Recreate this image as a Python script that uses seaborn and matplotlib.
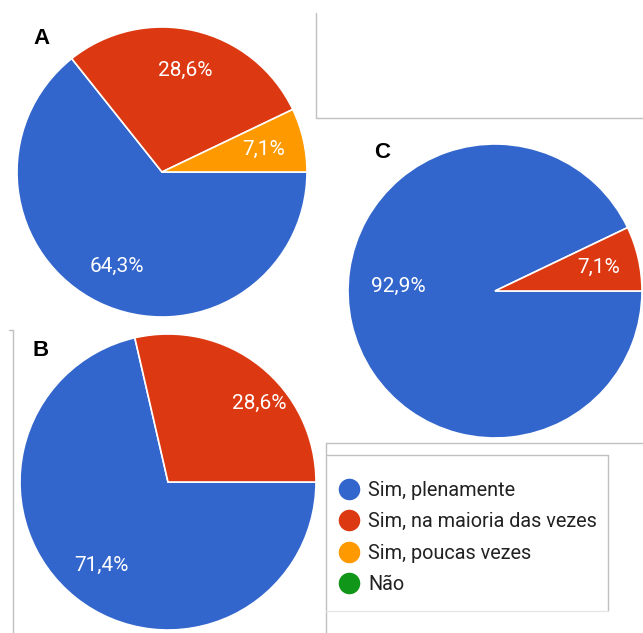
import matplotlib
matplotlib.use("Agg")
import matplotlib.pyplot as plt
from matplotlib.lines import Line2D
import numpy as np
import seaborn as sns

# ---- data ----
categories = ["Sim, plenamente", "Sim, na maioria das vezes", "Sim, poucas vezes", "Não"]
values_A = [64.3, 28.6, 7.1, 0.0]
values_B = [71.4, 28.6, 0.0, 0.0]
values_C = [92.9, 7.1, 0.0, 0.0]
panel_letters = ["A", "B", "C"]
colors = ["#3366cc", "#dc3912", "#ff9900", "#109618"]

sns.set_theme(style="white")
plt.rcParams["font.family"] = ["Roboto", "DejaVu Sans"]

W, H = 643, 633
fig = plt.figure(figsize=(W / 100, H / 100), dpi=100)


def px_axes(cx, cy, r):
    return fig.add_axes([(cx - r) / W, 1 - (cy + r) / H, 2 * r / W, 2 * r / H])


def fmt(v):
    return ("%.1f%%" % v).replace(".", ",")


def draw_pie(ax, vals, label_pos=None):
    label_pos = label_pos or {}
    vs = [v for v in vals if v > 0]
    cs = [c for v, c in zip(vals, colors) if v > 0]
    ax.pie(vs, colors=cs, startangle=0, counterclock=False,
           radius=1.0, wedgeprops=dict(edgecolor="white", linewidth=1.2))
    start = 0.0
    for i, v in enumerate(vs):
        mid = start - v / 100 * 360 / 2
        start -= v / 100 * 360
        ang = np.deg2rad(mid)
        x, y = label_pos.get(i, (0.72 * np.cos(ang), 0.72 * np.sin(ang)))
        ax.text(x, y, fmt(v), ha="center", va="center", color="white", fontsize=15)
    ax.set_xlim(-1, 1)
    ax.set_ylim(-1, 1)
    ax.set_axis_off()


axA = px_axes(162, 172, 145)
draw_pie(axA, values_A)
axB = px_axes(168, 482, 148)
draw_pie(axB, values_B, label_pos={1: (0.615, 0.534)})
axC = px_axes(495, 291, 147)
draw_pie(axC, values_C, label_pos={0: (-0.66, 0.03)})

# panel letters
for letter, (x, y) in zip(panel_letters, [(41, 39), (41, 351), (382, 153)]):
    fig.text(x / W, 1 - y / H, letter, ha="center", va="center", fontsize=16,
             fontweight="bold", color="black", family=["Liberation Sans", "DejaVu Sans"])


# decorative panel borders
def pline(xs, ys, color="#c0c0c0", lw=1.0):
    fig.add_artist(Line2D([x / W for x in xs], [1 - y / H for y in ys],
                          color=color, lw=lw, zorder=0))


pline([316, 316], [13, 118])
pline([316, 643], [118, 118])
pline([13, 13], [330, 633])
pline([9, 13], [330, 330])
pline([326, 643], [443, 443])
pline([326, 326], [443, 633])
pline([326, 608], [455, 455])
pline([608, 608], [455, 611])
pline([326, 608], [611, 611], color="#e6e6e6")

# legend
handles = [Line2D([0], [0], marker="o", linestyle="", markersize=14.5,
                  markerfacecolor=c, markeredgecolor=c) for c in colors]
leg = fig.legend(handles, categories, loc="upper left",
                 bbox_to_anchor=(337 / W, 1 - 481 / H), frameon=False,
                 fontsize=14.3, labelspacing=0.62, handletextpad=0.36,
                 handlelength=1.2, borderaxespad=0, borderpad=0)
for t in leg.get_texts():
    t.set_color("#222222")

fig.savefig("out.png", dpi=100)
